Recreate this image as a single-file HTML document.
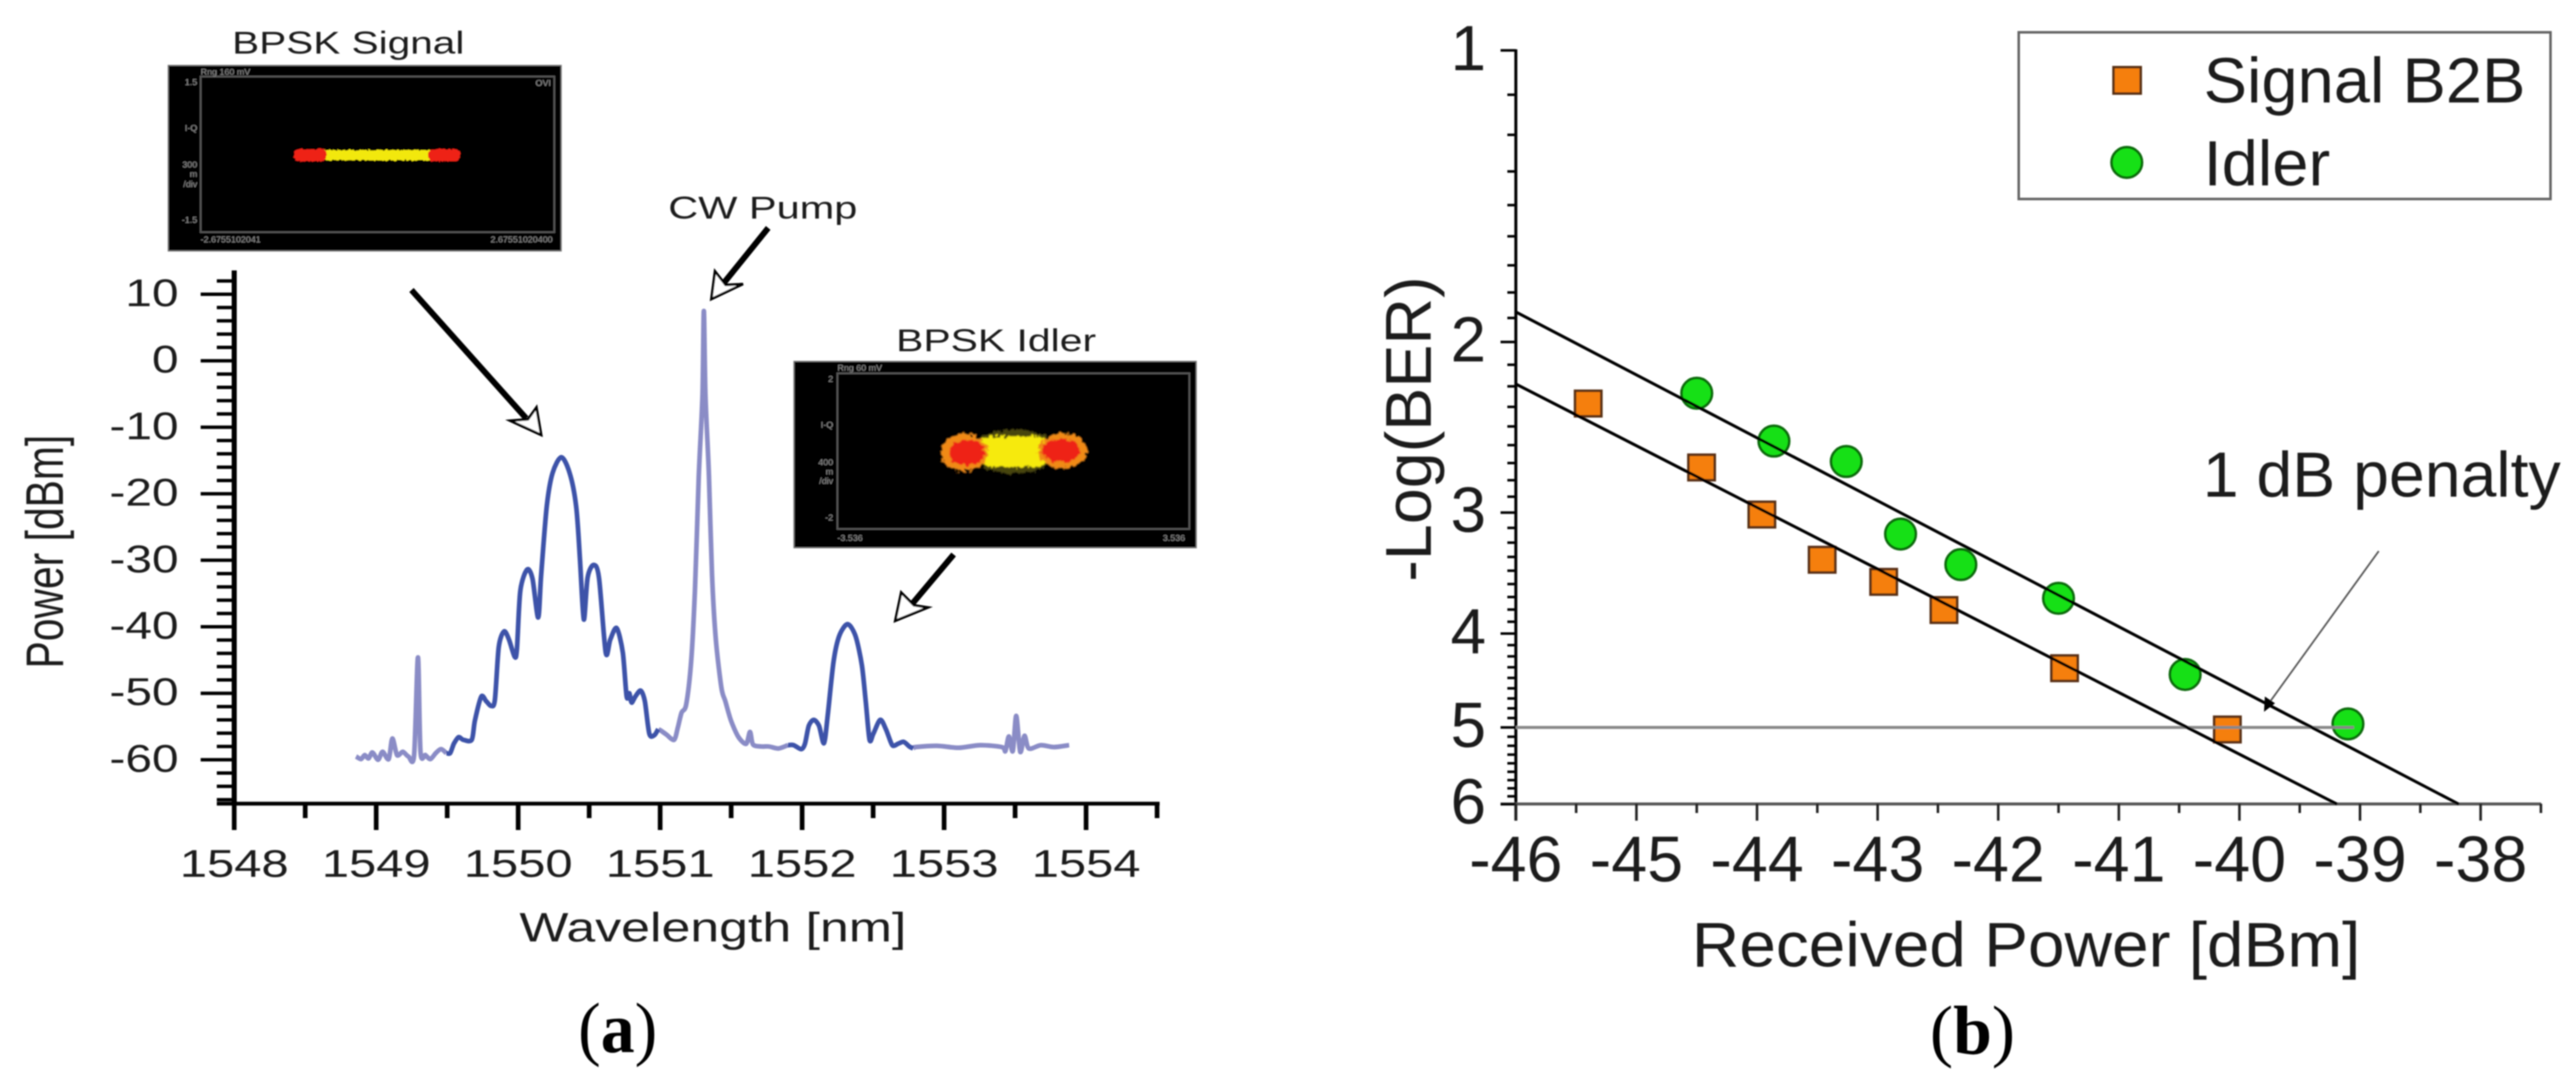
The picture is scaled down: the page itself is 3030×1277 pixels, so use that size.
<!DOCTYPE html>
<html lang="en">
<head>
<meta charset="utf-8">
<title>BPSK wavelength conversion spectrum and BER</title>
<style>
html,body{margin:0;padding:0;background:#fff;width:3030px;height:1277px;overflow:hidden}
svg{display:block}
text{font-family:"Liberation Sans",Arial,sans-serif;fill:#1c1c1c}
.cap{font-family:"Liberation Serif","Times New Roman",serif;fill:#000}
.small{fill:#8c8c8c;font-size:10.5px}
</style>
</head>
<body>
<svg id="fig" xmlns="http://www.w3.org/2000/svg" width="3030" height="1277" viewBox="0 0 3030 1277">
<defs>
  <filter id="soft" x="-2%" y="-2%" width="104%" height="104%"><feGaussianBlur stdDeviation="0.8"/></filter>
  <filter id="blob" x="-30%" y="-30%" width="160%" height="160%"><feGaussianBlur stdDeviation="1.6"/></filter>
  <filter id="rough" x="-20%" y="-20%" width="140%" height="140%">
    <feTurbulence type="fractalNoise" baseFrequency="0.22" numOctaves="2" seed="4" result="n"/>
    <feDisplacementMap in="SourceGraphic" in2="n" scale="10" xChannelSelector="R" yChannelSelector="G"/>
    <feGaussianBlur stdDeviation="0.9"/>
  </filter>
  <filter id="roughFine" x="-10%" y="-40%" width="120%" height="180%">
    <feTurbulence type="fractalNoise" baseFrequency="0.3" numOctaves="2" seed="7" result="n"/>
    <feDisplacementMap in="SourceGraphic" in2="n" scale="4" xChannelSelector="R" yChannelSelector="G"/>
  </filter>
</defs>
<g id="root" filter="url(#soft)">

<!-- Panel a insets -->
<g>
  <text transform="translate(273,63) scale(1.29,1)" font-size="37">BPSK Signal</text>
  <rect x="198" y="77" width="462" height="218" fill="#000" stroke="#777" stroke-width="1.5"/>
  <rect x="236" y="90" width="416" height="183" fill="none" stroke="#555" stroke-width="2"/>
  <text class="small" x="236" y="88">Rng 160 mV</text>
  <text class="small" x="232" y="100" text-anchor="end">1.5</text>
  <text class="small" x="232" y="154" text-anchor="end">I-Q</text>
  <text class="small" x="232" y="197" text-anchor="end">300</text>
  <text class="small" x="232" y="208" text-anchor="end">m</text>
  <text class="small" x="232" y="220" text-anchor="end">/div</text>
  <text class="small" x="232" y="262" text-anchor="end">-1.5</text>
  <text class="small" x="236" y="285">-2.6755102041</text>
  <text class="small" x="650" y="285" text-anchor="end">2.67551020400</text>
  <text class="small" x="648" y="101" text-anchor="end">OVI</text>
  <g filter="url(#roughFine)">
    <rect x="378" y="176.5" width="130" height="12" fill="#f2e80a"/>
    <rect x="346" y="175.5" width="38" height="14" rx="5" fill="#ee2317"/>
    <rect x="504" y="175.5" width="37" height="14" rx="5" fill="#ee2317"/>
  </g>
</g>

<g>
  <text transform="translate(1054,413) scale(1.3,1)" font-size="37">BPSK Idler</text>
  <rect x="934" y="425" width="473" height="219" fill="#000" stroke="#777" stroke-width="1.5"/>
  <rect x="985" y="439" width="414" height="183" fill="none" stroke="#555" stroke-width="2"/>
  <text class="small" x="985" y="436">Rng 60 mV</text>
  <text class="small" x="980" y="449" text-anchor="end">2</text>
  <text class="small" x="980" y="503" text-anchor="end">I-Q</text>
  <text class="small" x="980" y="547" text-anchor="end">400</text>
  <text class="small" x="980" y="558" text-anchor="end">m</text>
  <text class="small" x="980" y="569" text-anchor="end">/div</text>
  <text class="small" x="980" y="612" text-anchor="end">-2</text>
  <text class="small" x="985" y="636">-3.536</text>
  <text class="small" x="1394" y="636" text-anchor="end">3.536</text>
  <g filter="url(#rough)">
    <ellipse cx="1193" cy="531" rx="52" ry="26" fill="#5f5c14" opacity="0.75"/>
    <rect x="1150" y="513" width="84" height="36" rx="14" fill="#f6ea0a"/>
    <ellipse cx="1134" cy="532" rx="28" ry="22" fill="#f08a12"/>
    <ellipse cx="1250" cy="530" rx="29" ry="21" fill="#f08a12"/>
    <ellipse cx="1137" cy="532" rx="21" ry="15" fill="#ee2317"/>
    <ellipse cx="1248" cy="530" rx="22" ry="14" fill="#ee2317"/>
  </g>
</g>

<!-- Panel a annotation arrows -->
<g stroke="#000" stroke-linejoin="miter">
  <line x1="484" y1="341" x2="619" y2="492" stroke-width="7"/>
  <polygon points="636.6,511.5 600,494.7 621,493 631,479" fill="#fff" stroke-width="3"/>
  <line x1="903.6" y1="268" x2="852" y2="332" stroke-width="7"/>
  <polygon points="836.7,351.7 841,319 853.5,335 874,334" fill="#fff" stroke-width="3"/>
  <line x1="1121.7" y1="652" x2="1073" y2="710" stroke-width="7"/>
  <polygon points="1053,730 1060,696.7 1075,711.7 1091.7,714.3" fill="#fff" stroke-width="3"/>
</g>
<text transform="translate(786,257) scale(1.32,1)" font-size="37">CW Pump</text>

<g id="axesA"></g>
<g id="seriesA"></g>
<text transform="translate(611,1107) scale(1.27,1)" font-size="48">Wavelength [nm]</text>
<text transform="translate(74,786) scale(1.3,1) rotate(-90)" font-size="48">Power [dBm]</text>

<!-- Panel b -->
<g id="axesB"></g>
<g id="seriesB"></g>
<text transform="translate(1990,1136.5) scale(1.045,1)" font-size="74">Received Power [dBm]</text>
<text transform="translate(1683,684) rotate(-90)" font-size="76">-Log(BER)</text>

<g>
  <rect x="2374.5" y="38" width="625.5" height="196" fill="none" stroke="#666" stroke-width="3"/>
  <rect x="2486" y="79" width="32" height="31" fill="#f57f0c" stroke="#5a3015" stroke-width="3"/>
  <circle cx="2501.6" cy="191" r="18" fill="#12e012" stroke="#0a6a0a" stroke-width="3"/>
  <text transform="translate(2592,120.5) scale(1.02,1)" font-size="75">Signal B2B</text>
  <text transform="translate(2592,218) scale(1.02,1)" font-size="75">Idler</text>
</g>
<text transform="translate(2591,584) scale(1.01,1)" font-size="75">1 dB penalty</text>
<line x1="2798" y1="648" x2="2668" y2="828" stroke="#555" stroke-width="2"/>
<polygon points="2663,837 2664,819 2676,827" fill="#000"/>

<text class="cap" transform="translate(680,1237) scale(0.95,1)" font-size="84">(<tspan font-weight="bold">a</tspan>)</text>
<text class="cap" transform="translate(2270,1239)" font-size="82">(<tspan font-weight="bold">b</tspan>)</text>
</g>
</svg>

<script>
// ---- Panel (a) spectrum data: wavelength [nm] and power [dBm] per displayed segment ----
const lightA_wl = [1548.858,1548.893,1548.919,1548.946,1548.973,1549.013,1549.045,1549.088,1549.114,1549.147,1549.187,1549.227,1549.267,1549.294,1549.312,1549.347,1549.382,1549.419,1549.457,1549.494];
const lightA_db = [-59.5,-59.9,-59.3,-59.8,-58.9,-60.0,-58.8,-59.9,-56.8,-59.3,-58.8,-59.5,-59.3,-44.6,-58.8,-59.3,-59.9,-59.0,-58.4,-59.0];
const signalBand_wl = [1549.494,1549.521,1549.547,1549.580,1549.614,1549.673,1549.695,1549.740,1549.775,1549.810,1549.836,1549.863,1549.900,1549.935,1549.975,1549.991,1550.015,1550.063,1550.101,1550.141,1550.162,1550.202,1550.242,1550.304,1550.363,1550.408,1550.435,1550.462,1550.489,1550.531,1550.569,1550.617,1550.649,1550.694,1550.737,1550.764,1550.783,1550.799,1550.825,1550.863,1550.892,1550.924,1550.959,1550.986];
const signalBand_db = [-59.0,-59.0,-57.6,-56.6,-57.0,-57.0,-54.1,-50.5,-51.2,-51.9,-51.0,-43.1,-40.7,-41.9,-44.5,-43.4,-34.6,-31.4,-32.8,-38.6,-32.1,-21.8,-16.9,-14.5,-16.9,-21.8,-29.7,-38.9,-32.6,-30.7,-32.6,-43.9,-41.9,-40.2,-43.9,-50.5,-50.0,-51.4,-50.5,-49.6,-51.2,-56.1,-56.3,-55.4];
const pump_wl = [1550.986,1551.004,1551.044,1551.098,1551.125,1551.151,1551.183,1551.218,1551.245,1551.272,1551.298,1551.308,1551.319,1551.344,1551.365,1551.392,1551.432,1551.459,1551.499,1551.552,1551.606,1551.633,1551.654,1551.713,1551.766,1551.833,1551.900];
const pump_db = [-55.4,-55.6,-56.2,-57.0,-55.1,-52.9,-51.7,-45.3,-34.6,-17.4,-5.2,7.5,-5.2,-17.4,-32.1,-41.9,-49.2,-51.2,-54.1,-56.6,-57.6,-55.8,-57.7,-58.0,-58.0,-58.3,-57.8];
const idlerBand_wl = [1551.900,1551.940,1551.994,1552.020,1552.047,1552.082,1552.119,1552.154,1552.181,1552.221,1552.261,1552.320,1552.376,1552.421,1552.448,1552.475,1552.501,1552.550,1552.590,1552.635,1552.675,1552.715,1552.755,1552.782];
const idlerBand_db = [-57.8,-57.8,-58.4,-57.6,-54.9,-54.0,-54.9,-57.5,-53.2,-45.3,-41.4,-39.6,-41.4,-45.8,-51.2,-57.0,-56.1,-54.0,-55.4,-57.8,-57.6,-57.3,-58.0,-58.3];
const lightB_wl = [1552.782,1552.796,1552.949,1553.102,1553.255,1553.407,1553.432,1553.456,1553.484,1553.508,1553.536,1553.566,1553.597,1553.682,1553.774,1553.881];
const lightB_db = [-58.3,-58.1,-57.9,-58.2,-57.8,-58.1,-58.7,-56.5,-58.7,-53.4,-58.8,-56.4,-58.3,-57.8,-58.1,-57.8];
const wavelengthTicks = [1548,1549,1550,1551,1552,1553,1554];
const wavelengthMinorTicks = [1548.5,1549.5,1550.5,1551.5,1552.5,1553.5,1554.5];
const powerTicks = [10,0,-10,-20,-30,-40,-50,-60];
const powerMinorTicks = [12,8,6,4,2,-2,-4,-6,-8,-12,-14,-16,-18,-22,-24,-26,-28,-32,-34,-36,-38,-42,-44,-46,-48,-52,-54,-56,-58,-62,-64,-66];

// ---- Panel (b) BER data ----
const signalPower = [-45.40,-44.46,-43.96,-43.46,-42.95,-42.45,-41.45,-40.10];
const signalBer = [2.315,2.695,3.014,3.356,3.537,3.782,4.343,5.024];
const idlerPower = [-44.50,-43.86,-43.26,-42.81,-42.31,-41.50,-40.45,-39.10];
const idlerBer = [2.259,2.531,2.657,3.157,3.395,3.678,4.408,4.958];
const signalFitPower = [-46,-39.19];
const signalFitBer = [2.21,6];
const idlerFitPower = [-46,-38.18];
const idlerFitBer = [1.862,6];
const thresholdPower = [-46,-39.05];
const thresholdBer = [5,5];
const receivedPowerTicks = [-46,-45,-44,-43,-42,-41,-40,-39,-38];
const receivedPowerMinorTicks = [-45.5,-44.5,-43.5,-42.5,-41.5,-40.5,-39.5,-38.5,-37.5];
const berTicks = [1,2,3,4,5,6];

// ---- Scales ----
const xA = v => 275.5 + 167 * (v - 1548);
const yA = v => 346 + 7.82 * (10 - v);
const xB = v => 1783 + 141.85 * (v + 46);
const yB = v => 59.3 + 1139 * Math.log10(v);

const NS = 'http://www.w3.org/2000/svg';
function mk(parent, tag, attrs, txt) {
  const el = document.createElementNS(NS, tag);
  for (const k in attrs) el.setAttribute(k, attrs[k]);
  if (txt !== undefined) el.textContent = txt;
  parent.appendChild(el);
  return el;
}
const axesA = document.getElementById('axesA');
const seriesA = document.getElementById('seriesA');
const axesB = document.getElementById('axesB');
const seriesB = document.getElementById('seriesB');

// Panel a axes
let el = mk(axesA, 'line', {x1: 275.5, y1: 318, x2: 275.5, y2: 947, stroke: '#000', 'stroke-width': 6});


el = mk(axesA, 'line', {x1: 255, y1: 945, x2: 1364, y2: 945, stroke: '#000', 'stroke-width': 4.5});


powerTicks.forEach(v => {
  const t = mk(axesA, 'line', {x1: 236, y1: yA(v), x2: 275, y2: yA(v), stroke: '#000', 'stroke-width': 4});
  
  
  const l = mk(axesA, 'text', {transform: 'translate(210,' + (yA(v) + 14) + ') scale(1.25,1)', 'font-size': 45, 'text-anchor': 'end'}, String(v));
  
  
});
powerMinorTicks.forEach(v => {
  const t = mk(axesA, 'line', {x1: 255, y1: yA(v), x2: 275, y2: yA(v), stroke: '#000', 'stroke-width': 4});
  
  
});
wavelengthTicks.forEach(v => {
  const t = mk(axesA, 'line', {x1: xA(v), y1: 945, x2: xA(v), y2: 976, stroke: '#000', 'stroke-width': 5.5});
  
  
  const l = mk(axesA, 'text', {transform: 'translate(' + xA(v) + ',1031) scale(1.28,1)', 'font-size': 45, 'text-anchor': 'middle'}, String(v));
  
  
});
wavelengthMinorTicks.forEach(v => {
  const t = mk(axesA, 'line', {x1: xA(v), y1: 945, x2: xA(v), y2: 962, stroke: '#000', 'stroke-width': 5.5});
  
  
});

// Panel a spectrum: smooth curve through the read-off points
function pathFrom(xs, ys, fx, fy) {
  const px = xs.map(fx), py = ys.map(fy), n = px.length, t = 1 / 7;
  let d = 'M' + px[0].toFixed(1) + ' ' + py[0].toFixed(1);
  for (let i = 0; i < n - 1; i++) {
    const a = Math.max(i - 1, 0), b = Math.min(i + 2, n - 1);
    const c1x = px[i] + (px[i + 1] - px[a]) * t, c1y = py[i] + (py[i + 1] - py[a]) * t;
    const c2x = px[i + 1] - (px[b] - px[i]) * t, c2y = py[i + 1] - (py[b] - py[i]) * t;
    d += ' C' + c1x.toFixed(1) + ' ' + c1y.toFixed(1) + ' ' + c2x.toFixed(1) + ' ' + c2y.toFixed(1) + ' ' + px[i + 1].toFixed(1) + ' ' + py[i + 1].toFixed(1);
  }
  return d;
}
const LIGHT = '#8a8cc6', DARK = '#3c52a9';
el = mk(seriesA, 'path', {d: pathFrom(lightA_wl, lightA_db, xA, yA), fill: 'none', stroke: LIGHT, 'stroke-width': 5.5, 'stroke-linejoin': 'round'});


el = mk(seriesA, 'path', {d: pathFrom(pump_wl, pump_db, xA, yA), fill: 'none', stroke: LIGHT, 'stroke-width': 5.5, 'stroke-linejoin': 'round'});


el = mk(seriesA, 'path', {d: pathFrom(lightB_wl, lightB_db, xA, yA), fill: 'none', stroke: LIGHT, 'stroke-width': 5.5, 'stroke-linejoin': 'round'});


el = mk(seriesA, 'path', {d: pathFrom(signalBand_wl, signalBand_db, xA, yA), fill: 'none', stroke: DARK, 'stroke-width': 5.5, 'stroke-linejoin': 'round'});


el = mk(seriesA, 'path', {d: pathFrom(idlerBand_wl, idlerBand_db, xA, yA), fill: 'none', stroke: DARK, 'stroke-width': 5.5, 'stroke-linejoin': 'round'});



// Panel b axes
el = mk(axesB, 'line', {x1: 1783, y1: 58, x2: 1783, y2: 965, stroke: '#000', 'stroke-width': 3.5});


el = mk(axesB, 'line', {x1: 1765, y1: 945.4, x2: 2989, y2: 945.4, stroke: '#555', 'stroke-width': 3.5});


berTicks.forEach(v => {
  const t = mk(axesB, 'line', {x1: 1765, y1: yB(v), x2: 1783, y2: yB(v), stroke: '#000', 'stroke-width': 3});
  
  
  const l = mk(axesB, 'text', {x: 1748, y: yB(v) + 23, 'font-size': 75, 'text-anchor': 'end'}, String(v));
  
  
  if (v < 6) {
    for (let j = 1; j <= 8; j++) {
      const yy = yB(v + j / 9);
      const m = mk(axesB, 'line', {x1: 1773, y1: yy, x2: 1783, y2: yy, stroke: '#000', 'stroke-width': 3});
      
      
    }
  }
});
receivedPowerTicks.forEach(v => {
  const t = mk(axesB, 'line', {x1: xB(v), y1: 945, x2: xB(v), y2: 965, stroke: '#222', 'stroke-width': 3});
  
  
  const l = mk(axesB, 'text', {transform: 'translate(' + xB(v) + ',1036.5)', 'font-size': 76, 'text-anchor': 'middle'}, String(v));
  
  
});
receivedPowerMinorTicks.forEach(v => {
  const t = mk(axesB, 'line', {x1: xB(v), y1: 945, x2: xB(v), y2: 956, stroke: '#222', 'stroke-width': 3});
  
  
});

// Panel b markers (drawn under the fit lines, as in the original)
signalPower.forEach((p, i) => {
  const m = mk(seriesB, 'rect', {x: xB(p) - 15.5, y: yB(signalBer[i]) - 15, width: 31, height: 30, fill: '#f57f0c', stroke: '#5a3015', 'stroke-width': 3});
  
  
});
idlerPower.forEach((p, i) => {
  const m = mk(seriesB, 'circle', {cx: xB(p), cy: yB(idlerBer[i]), r: 18, fill: '#12e012', stroke: '#0a6a0a', 'stroke-width': 3});
  
  
});
el = mk(seriesB, 'line', {x1: xB(thresholdPower[0]), y1: yB(thresholdBer[0]), x2: xB(thresholdPower[1]), y2: yB(thresholdBer[1]), stroke: '#888', 'stroke-width': 3.5});


el = mk(seriesB, 'line', {x1: xB(signalFitPower[0]), y1: yB(signalFitBer[0]), x2: xB(signalFitPower[1]), y2: yB(signalFitBer[1]), stroke: '#000', 'stroke-width': 3.5});


el = mk(seriesB, 'line', {x1: xB(idlerFitPower[0]), y1: yB(idlerFitBer[0]), x2: xB(idlerFitPower[1]), y2: yB(idlerFitBer[1]), stroke: '#000', 'stroke-width': 3.5});


</script>
</body>
</html>
